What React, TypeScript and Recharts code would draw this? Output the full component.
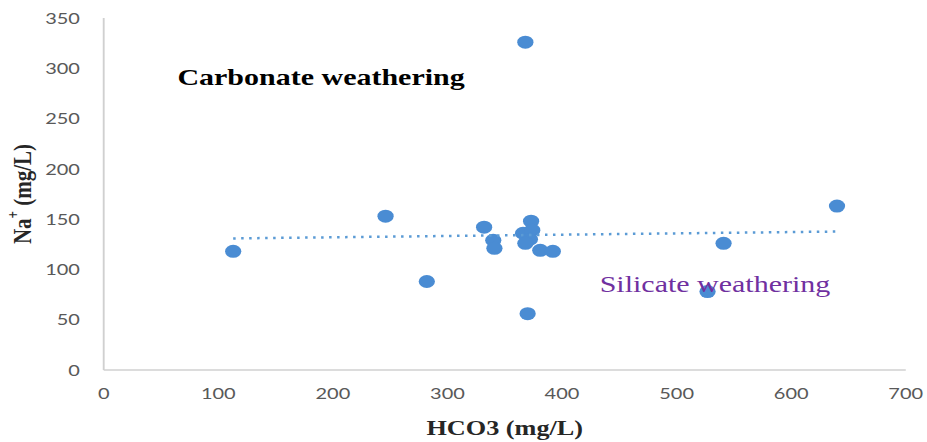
import { ScatterChart, Scatter, XAxis, YAxis, Label } from 'recharts'

// values
const hco3 = [113, 246, 282, 332, 340, 341, 368, 366, 373, 374, 372, 368, 370, 381, 392, 527, 541, 640]
const sodium = [118, 153, 88, 142, 129, 121, 326, 136, 148, 139, 130, 126, 56, 119, 118, 78, 126, 163]
const xTicks = [0, 100, 200, 300, 400, 500, 600, 700]
const yTicks = [0, 50, 100, 150, 200, 250, 300, 350]

const points = hco3.map((x, i) => ({ x, y: sodium[i] }))

// linear trendline (least squares), drawn from min x to max x like Excel does
const n = hco3.length
const mx = hco3.reduce((a, b) => a + b, 0) / n
const my = sodium.reduce((a, b) => a + b, 0) / n
let sxy = 0
let sxx = 0
hco3.forEach((x, i) => {
  sxy += (x - mx) * (sodium[i] - my)
  sxx += (x - mx) * (x - mx)
})
const slope = sxy / sxx
const xMin = Math.min(...hco3)
const xMax = Math.max(...hco3)
const trend = [
  { x: xMin, y: my + slope * (xMin - mx) },
  { x: xMax, y: my + slope * (xMax - mx) },
]

// the reference is stretched sideways, so draw narrow and scale it out
const W = 742
const H = 442
const SX = 927 / W

const tickStyle = { fill: '#595959', fontSize: 16, fontFamily: 'Lato, sans-serif' }
const titleFont = "'Liberation Serif', serif"

const dot = (props: any) => <circle cx={props.cx} cy={props.cy} r={6.5} fill="#4a8cd3" />

const NaLabel = () => (
  <text
    x={18}
    y={194}
    transform="rotate(-90 18 194)"
    textAnchor="middle"
    dominantBaseline="central"
    fontFamily={titleFont}
    fontWeight="bold"
    fontSize={21}
    fill="#262626"
  >
    Na<tspan baselineShift="super" fontSize={13}>+</tspan>
    <tspan> (mg/L)</tspan>
  </text>
)

const HcoLabel = (props: any) => {
  const vb = props.viewBox || {}
  const cx = (vb.x ?? 83) + (vb.width ?? 642) / 2
  return (
    <text
      x={cx}
      y={428}
      textAnchor="middle"
      dominantBaseline="central"
      fontFamily={titleFont}
      fontWeight="bold"
      fontSize={21}
      fill="#262626"
    >
      HCO3 (mg/L)
    </text>
  )
}

export default function App() {
  return (
    <div style={{ width: 927, height: H, overflow: 'hidden', background: '#fff' }}>
      <style>{'body{margin:0}'}</style>
      <div style={{ position: 'relative', width: W, height: H, transform: `scaleX(${SX})`, transformOrigin: '0 0' }}>
        <ScatterChart width={W} height={H} margin={{ top: 18, right: 17, left: 23, bottom: 22 }}>
          <XAxis
            type="number"
            dataKey="x"
            domain={[0, 700]}
            ticks={xTicks}
            tick={tickStyle}
            tickLine={false}
            tickSize={0}
            tickMargin={18}
            height={50}
            stroke="#d0d0d0"
            strokeWidth={1.5}
          >
            <Label content={HcoLabel} />
          </XAxis>
          <YAxis
            type="number"
            dataKey="y"
            domain={[0, 350]}
            ticks={yTicks}
            tick={tickStyle}
            tickLine={false}
            tickSize={0}
            tickMargin={19}
            width={60}
            stroke="#d0d0d0"
            strokeWidth={1.5}
          >
            <Label content={NaLabel} />
          </YAxis>
          <Scatter data={points} shape={dot} isAnimationActive={false} />
          <Scatter
            data={trend}
            line={{ stroke: '#5b9bd5', strokeWidth: 2.5, strokeDasharray: '2 4.4' }}
            shape={() => null}
            isAnimationActive={false}
          />
        </ScatterChart>
        <div
          style={{
            position: 'absolute',
            left: 142,
            top: 65,
            fontFamily: titleFont,
            fontWeight: 'bold',
            fontSize: 24,
            lineHeight: 1,
            color: '#000',
            whiteSpace: 'nowrap',
          }}
        >
          Carbonate weathering
        </div>
        <div
          style={{
            position: 'absolute',
            left: 480,
            top: 272,
            fontFamily: titleFont,
            fontSize: 24,
            lineHeight: 1,
            color: '#7030a0',
            whiteSpace: 'nowrap',
          }}
        >
          Silicate weathering
        </div>
      </div>
    </div>
  )
}
